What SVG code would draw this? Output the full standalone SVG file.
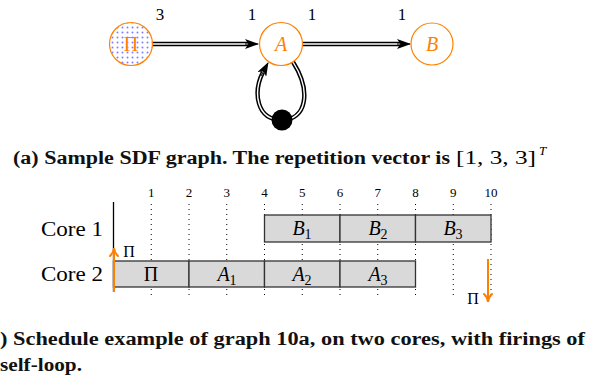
<svg xmlns="http://www.w3.org/2000/svg" width="608" height="381" viewBox="0 0 608 381">
<style>
.serif{font-family:"Liberation Serif","DejaVu Serif",serif;}
.node{fill:none;stroke:#ff8000;stroke-width:1.2;}
.nlabel{font-family:"Liberation Serif","DejaVu Serif",serif;font-size:20px;fill:#ff8000;text-anchor:middle;}
.rate{font-family:"Liberation Serif","DejaVu Serif",serif;font-size:17px;fill:#000;text-anchor:middle;}
.outer{fill:none;stroke:#000;stroke-width:4.4;}
.inner{fill:none;stroke:#fff;stroke-width:1.4;}
.box{fill:#d9d9d9;stroke:#333;stroke-width:1.3;}
.blabel{font-family:"Liberation Serif","DejaVu Serif",serif;font-size:20px;fill:#000;text-anchor:middle;}
.sub{font-style:normal;font-size:14px;}
.tick{font-family:"Liberation Serif","DejaVu Serif",serif;font-size:13px;fill:#000;text-anchor:middle;}
.grid{stroke:#000;stroke-width:1;stroke-dasharray:1 4;}
.cap{font-family:"Liberation Serif","DejaVu Serif",serif;font-size:18px;font-weight:bold;fill:#111;}
.orange{stroke:#ff8000;stroke-width:2;fill:none;}
</style>
<defs>
<pattern id="dots" width="5" height="5" patternUnits="userSpaceOnUse">
<rect width="5" height="5" fill="#fff"/>
<circle cx="2.5" cy="2.5" r="1" fill="#8080ff"/>
</pattern>
<marker id="stealth" viewBox="0 0 14 10" refX="13" refY="5" markerWidth="14" markerHeight="10" markerUnits="userSpaceOnUse" orient="auto">
<path d="M0,0 L14,5 L0,10 L3.5,5 Z" fill="#000"/>
</marker>
<marker id="oarrow" viewBox="0 0 10 10" refX="8" refY="5" markerWidth="10" markerHeight="10" markerUnits="userSpaceOnUse" orient="auto">
<path d="M1,1 Q4,4.5 9,5 Q4,5.5 1,9" fill="none" stroke="#ff8000" stroke-width="2" stroke-linecap="round"/>
</marker>
</defs>

<g id="connectors">
<g id="e-pi-a">
<line x1="152" y1="44" x2="249" y2="44" class="outer"/>
<line x1="152" y1="44" x2="249" y2="44" class="inner"/>
<line x1="245" y1="44" x2="258" y2="44" stroke="#000" stroke-width="1" marker-end="url(#stealth)"/>
</g>
<g id="e-a-b">
<line x1="303" y1="44" x2="401" y2="44" class="outer"/>
<line x1="303" y1="44" x2="401" y2="44" class="inner"/>
<line x1="397" y1="44" x2="410" y2="44" stroke="#000" stroke-width="1" marker-end="url(#stealth)"/>
</g>
<g id="e-self">
<path d="M293,62 C312,92 306,120 282,120 C256,120 253,92 263,72" class="outer"/>
<path d="M293,62 C312,92 306,120 282,120 C256,120 253,92 263,72" class="inner"/>
<line x1="261" y1="76" x2="268" y2="63" stroke="#000" stroke-width="1" marker-end="url(#stealth)"/>
</g>
<text x="160" y="20" class="rate">3</text>
<text x="252" y="20" class="rate">1</text>
<text x="312" y="20" class="rate">1</text>
<text x="402" y="20" class="rate">1</text>
</g>

<g id="node-pi">
<circle cx="131" cy="44" r="21.5" fill="url(#dots)" stroke="#ff8000" stroke-width="1.2"/>
<text x="131" y="51" class="nlabel">Π</text>
</g>
<g id="node-a">
<circle cx="281" cy="44" r="21.5" class="node" fill="#fff"/>
<text x="281" y="51" class="nlabel" font-style="italic">A</text>
</g>
<g id="node-b">
<circle cx="432" cy="44" r="21" class="node"/>
<text x="432" y="51" class="nlabel" font-style="italic">B</text>
</g>
<g id="token">
<circle cx="282" cy="120" r="10.5" fill="#000"/>
</g>

<text x="13" y="164" class="cap" textLength="437" lengthAdjust="spacingAndGlyphs">(a) Sample SDF graph. The repetition vector is</text>
<text x="456" y="164" class="serif" font-size="18" textLength="80" lengthAdjust="spacingAndGlyphs">[1, 3, 3]</text>
<text x="539" y="155" class="serif" font-size="13" font-style="italic">T</text>

<g id="schedule">
<g id="grid">
<line x1="151.25" y1="204" x2="151.25" y2="296" class="grid"/>
<line x1="189" y1="204" x2="189" y2="296" class="grid"/>
<line x1="226.75" y1="204" x2="226.75" y2="296" class="grid"/>
<line x1="264.5" y1="204" x2="264.5" y2="296" class="grid"/>
<line x1="302.25" y1="204" x2="302.25" y2="296" class="grid"/>
<line x1="340" y1="204" x2="340" y2="296" class="grid"/>
<line x1="377.75" y1="204" x2="377.75" y2="296" class="grid"/>
<line x1="415.5" y1="204" x2="415.5" y2="296" class="grid"/>
<line x1="453.25" y1="204" x2="453.25" y2="296" class="grid"/>
<line x1="491" y1="204" x2="491" y2="296" class="grid"/>
<text x="151.25" y="197" class="tick">1</text>
<text x="189" y="197" class="tick">2</text>
<text x="226.75" y="197" class="tick">3</text>
<text x="264.5" y="197" class="tick">4</text>
<text x="302.25" y="197" class="tick">5</text>
<text x="340" y="197" class="tick">6</text>
<text x="377.75" y="197" class="tick">7</text>
<text x="415.5" y="197" class="tick">8</text>
<text x="453.25" y="197" class="tick">9</text>
<text x="491" y="197" class="tick">10</text>
</g>
<text x="41" y="236" class="serif" font-size="21" textLength="62" lengthAdjust="spacingAndGlyphs">Core 1</text>
<text x="41" y="281" class="serif" font-size="21" textLength="62" lengthAdjust="spacingAndGlyphs">Core 2</text>
<g id="core1">
<rect x="264.5" y="215" width="75.5" height="27" class="box"/>
<rect x="340" y="215" width="75.5" height="27" class="box"/>
<rect x="415.5" y="215" width="75.5" height="27" class="box"/>
<text x="302" y="235" class="blabel" font-style="italic">B<tspan class="sub" dy="4">1</tspan></text>
<text x="378" y="235" class="blabel" font-style="italic">B<tspan class="sub" dy="4">2</tspan></text>
<text x="453" y="235" class="blabel" font-style="italic">B<tspan class="sub" dy="4">3</tspan></text>
</g>
<g id="core2">
<rect x="113.5" y="261" width="75.5" height="26" class="box"/>
<rect x="189" y="261" width="75.5" height="26" class="box"/>
<rect x="264.5" y="261" width="75.5" height="26" class="box"/>
<rect x="340" y="261" width="75.5" height="26" class="box"/>
<text x="151" y="281" class="blabel">Π</text>
<text x="227" y="281" class="blabel" font-style="italic">A<tspan class="sub" dy="4">1</tspan></text>
<text x="302" y="281" class="blabel" font-style="italic">A<tspan class="sub" dy="4">2</tspan></text>
<text x="378" y="281" class="blabel" font-style="italic">A<tspan class="sub" dy="4">3</tspan></text>
</g>
<line x1="113.5" y1="202" x2="113.5" y2="292" stroke="#000" stroke-width="1.3"/>
<line x1="114" y1="292" x2="114" y2="249" class="orange" marker-end="url(#oarrow)"/>
<text x="129" y="257" class="serif" font-size="16" text-anchor="middle">Π</text>
<line x1="488" y1="259" x2="488" y2="301" class="orange" marker-end="url(#oarrow)"/>
<text x="473" y="304" class="serif" font-size="16" text-anchor="middle">Π</text>
</g>

<text x="0" y="345" class="cap" textLength="585" lengthAdjust="spacingAndGlyphs">) Schedule example of graph 10a, on two cores, with firings of</text>
<text x="0" y="371" class="cap" textLength="82" lengthAdjust="spacingAndGlyphs">self-loop.</text>
</svg>
